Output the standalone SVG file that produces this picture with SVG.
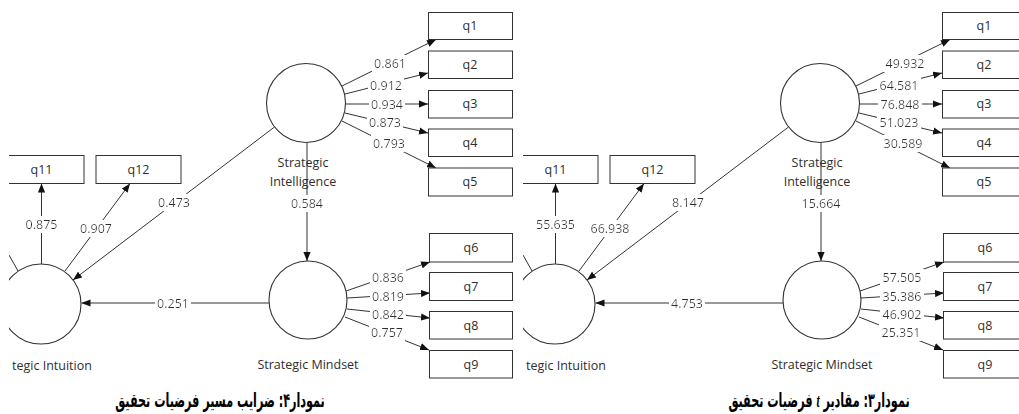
<svg xmlns="http://www.w3.org/2000/svg" width="1019" height="414" viewBox="0 0 1019 414">
<style>
.bg{fill:#fff}
.ln{stroke:#333;stroke-width:1;fill:none}
.arr{marker-end:url(#ah)}
.box{fill:#fff;stroke:#333;stroke-width:1}
.cir{fill:#fff;stroke:#333;stroke-width:1.1}
.t{font-family:"Open Sans","DejaVu Sans",sans-serif;font-size:12.5px;fill:#2e2e2e}
.c{text-anchor:middle}
.lbl{font-family:"Open Sans","DejaVu Sans",sans-serif;font-size:12.5px;fill:#2e2e2e;text-anchor:middle;filter:url(#wbg)}
.cap{font-family:"DejaVu Sans",sans-serif;font-size:17px;font-weight:bold;fill:#000;text-anchor:middle}
</style>
<defs>
<marker id="ah" viewBox="0 0 10 8" refX="10" refY="4" markerWidth="9" markerHeight="7.5" markerUnits="userSpaceOnUse" orient="auto">
<path d="M0,0 L10,4 L0,8 z" fill="#111"/>
</marker>
<filter id="wbg" x="-0.05" y="0.05" width="1.1" height="0.9">
<feFlood flood-color="#fff"/>
<feComposite in="SourceGraphic"/>
</filter>
<clipPath id="cl" clipPathUnits="userSpaceOnUse"><rect x="9" y="0" width="520" height="414"/></clipPath>
</defs>
<rect class="bg" x="0" y="0" width="1019" height="414"/>

<!-- LEFT PANEL : path coefficients -->
<g id="panel4" clip-path="url(#cl)">
<g id="p4-connectors">
<line class="ln" x1="9" y1="255" x2="18" y2="271"/>
<line class="ln arr" x1="41.5" y1="264" x2="41.5" y2="183.5"/>
<line class="ln arr" x1="65" y1="271" x2="130" y2="183.5"/>
<line class="ln arr" x1="274.5" y1="127" x2="73" y2="280"/>
<line class="ln arr" x1="269" y1="303" x2="81.5" y2="303"/>
<line class="ln arr" x1="307" y1="142.5" x2="307" y2="261"/>
<line class="ln arr" x1="342" y1="86" x2="436" y2="39.5"/>
<line class="ln arr" x1="345" y1="94" x2="428" y2="73"/>
<line class="ln arr" x1="345.5" y1="104" x2="428" y2="104"/>
<line class="ln arr" x1="345" y1="113" x2="428" y2="133"/>
<line class="ln arr" x1="342" y1="121" x2="436" y2="168"/>
<line class="ln arr" x1="346" y1="291" x2="430" y2="262"/>
<line class="ln arr" x1="347" y1="298" x2="430" y2="293"/>
<line class="ln arr" x1="347" y1="309" x2="430" y2="318"/>
<line class="ln arr" x1="345" y1="317" x2="429" y2="350"/>
<text class="lbl" x="41.5" y="229">0.875</text>
<text class="lbl" x="96" y="233">0.907</text>
<text class="lbl" x="174" y="207">0.473</text>
<text class="lbl" x="173" y="307.5">0.251</text>
<text class="lbl" x="307" y="208">0.584</text>
<text class="lbl" x="390" y="68">0.861</text>
<text class="lbl" x="386" y="90">0.912</text>
<text class="lbl" x="387" y="108.5">0.934</text>
<text class="lbl" x="385" y="127">0.873</text>
<text class="lbl" x="389" y="148">0.793</text>
<text class="lbl" x="388" y="282">0.836</text>
<text class="lbl" x="388" y="301">0.819</text>
<text class="lbl" x="388" y="319">0.842</text>
<text class="lbl" x="387" y="337">0.757</text>
</g>
<g id="p4-si"><circle class="cir" cx="306" cy="103" r="39.5"/><text class="t c" x="303" y="167">Strategic</text><text class="t c" x="303" y="186">Intelligence</text></g>
<g id="p4-sm"><circle class="cir" cx="308" cy="300" r="39"/><text class="t c" x="308" y="369">Strategic Mindset</text></g>
<g id="p4-sint"><circle class="cir" cx="41" cy="304" r="40"/><text class="t" x="12" y="370">tegic Intuition</text></g>
<g id="p4-q11"><rect class="box" x="-1" y="155.5" width="85" height="28"/><text class="t c" x="41.5" y="174">q11</text></g>
<g id="p4-q12"><rect class="box" x="96" y="155.5" width="85" height="28"/><text class="t c" x="138.5" y="174">q12</text></g>
<g id="p4-q1"><rect class="box" x="428.5" y="12.5" width="84" height="27"/><text class="t c" x="470" y="30">q1</text></g>
<g id="p4-q2"><rect class="box" x="428.5" y="51" width="84" height="27.5"/><text class="t c" x="470" y="69">q2</text></g>
<g id="p4-q3"><rect class="box" x="428.5" y="90.5" width="84" height="27.5"/><text class="t c" x="470" y="108">q3</text></g>
<g id="p4-q4"><rect class="box" x="428.5" y="129" width="84" height="27.5"/><text class="t c" x="470" y="147">q4</text></g>
<g id="p4-q5"><rect class="box" x="428.5" y="168" width="84" height="28"/><text class="t c" x="470" y="186">q5</text></g>
<g id="p4-q6"><rect class="box" x="429.5" y="233.5" width="83" height="28.5"/><text class="t c" x="471" y="252">q6</text></g>
<g id="p4-q7"><rect class="box" x="429.5" y="272.5" width="83" height="28"/><text class="t c" x="471" y="291">q7</text></g>
<g id="p4-q8"><rect class="box" x="429.5" y="311.5" width="83" height="27.5"/><text class="t c" x="471" y="330">q8</text></g>
<g id="p4-q9"><rect class="box" x="429.5" y="350.5" width="83" height="27.5"/><text class="t c" x="471" y="369">q9</text></g>
</g>

<!-- RIGHT PANEL : t values -->
<g id="panel3" transform="translate(514,0)" clip-path="url(#cl)">
<g id="p3-connectors">
<line class="ln" x1="9" y1="255" x2="18" y2="271"/>
<line class="ln arr" x1="41.5" y1="264" x2="41.5" y2="183.5"/>
<line class="ln arr" x1="65" y1="271" x2="130" y2="183.5"/>
<line class="ln arr" x1="274.5" y1="127" x2="73" y2="280"/>
<line class="ln arr" x1="269" y1="303" x2="81.5" y2="303"/>
<line class="ln arr" x1="307" y1="142.5" x2="307" y2="261"/>
<line class="ln arr" x1="342" y1="86" x2="436" y2="39.5"/>
<line class="ln arr" x1="345" y1="94" x2="428" y2="73"/>
<line class="ln arr" x1="345.5" y1="104" x2="428" y2="104"/>
<line class="ln arr" x1="345" y1="113" x2="428" y2="133"/>
<line class="ln arr" x1="342" y1="121" x2="436" y2="168"/>
<line class="ln arr" x1="346" y1="291" x2="430" y2="262"/>
<line class="ln arr" x1="347" y1="298" x2="430" y2="293"/>
<line class="ln arr" x1="347" y1="309" x2="430" y2="318"/>
<line class="ln arr" x1="345" y1="317" x2="429" y2="350"/>
<text class="lbl" x="41.5" y="229">55.635</text>
<text class="lbl" x="96" y="233">66.938</text>
<text class="lbl" x="174" y="207">8.147</text>
<text class="lbl" x="173" y="307.5">4.753</text>
<text class="lbl" x="307" y="208">15.664</text>
<text class="lbl" x="391" y="68">49.932</text>
<text class="lbl" x="385" y="90">64.581</text>
<text class="lbl" x="386" y="108.5">76.848</text>
<text class="lbl" x="385" y="127">51.023</text>
<text class="lbl" x="389" y="148">30.589</text>
<text class="lbl" x="388" y="282">57.505</text>
<text class="lbl" x="388" y="301">35.386</text>
<text class="lbl" x="388" y="319">46.902</text>
<text class="lbl" x="387" y="337">25.351</text>
</g>
<g id="p3-si"><circle class="cir" cx="306" cy="103" r="39.5"/><text class="t c" x="303" y="167">Strategic</text><text class="t c" x="303" y="186">Intelligence</text></g>
<g id="p3-sm"><circle class="cir" cx="308" cy="300" r="39"/><text class="t c" x="308" y="369">Strategic Mindset</text></g>
<g id="p3-sint"><circle class="cir" cx="41" cy="304" r="40"/><text class="t" x="12" y="370">tegic Intuition</text></g>
<g id="p3-q11"><rect class="box" x="-1" y="155.5" width="85" height="28"/><text class="t c" x="41.5" y="174">q11</text></g>
<g id="p3-q12"><rect class="box" x="96" y="155.5" width="85" height="28"/><text class="t c" x="138.5" y="174">q12</text></g>
<g id="p3-q1"><rect class="box" x="428.5" y="12.5" width="84" height="27"/><text class="t c" x="470" y="30">q1</text></g>
<g id="p3-q2"><rect class="box" x="428.5" y="51" width="84" height="27.5"/><text class="t c" x="470" y="69">q2</text></g>
<g id="p3-q3"><rect class="box" x="428.5" y="90.5" width="84" height="27.5"/><text class="t c" x="470" y="108">q3</text></g>
<g id="p3-q4"><rect class="box" x="428.5" y="129" width="84" height="27.5"/><text class="t c" x="470" y="147">q4</text></g>
<g id="p3-q5"><rect class="box" x="428.5" y="168" width="84" height="28"/><text class="t c" x="470" y="186">q5</text></g>
<g id="p3-q6"><rect class="box" x="429.5" y="233.5" width="83" height="28.5"/><text class="t c" x="471" y="252">q6</text></g>
<g id="p3-q7"><rect class="box" x="429.5" y="272.5" width="83" height="28"/><text class="t c" x="471" y="291">q7</text></g>
<g id="p3-q8"><rect class="box" x="429.5" y="311.5" width="83" height="27.5"/><text class="t c" x="471" y="330">q8</text></g>
<g id="p3-q9"><rect class="box" x="429.5" y="350.5" width="83" height="27.5"/><text class="t c" x="471" y="369">q9</text></g>
</g>

<g id="captions">
<text class="cap" transform="translate(220,407) scale(0.66,1.15)" x="0" y="0" direction="rtl">نمودار۴: ضرایب مسیر فرضیات تحقیق</text>
<text class="cap" transform="translate(819,407) scale(0.66,1.15)" x="0" y="0" direction="rtl">نمودار۳: مقادیر <tspan font-family="Liberation Serif" font-style="italic">t</tspan> فرضیات تحقیق</text>
</g>
</svg>
